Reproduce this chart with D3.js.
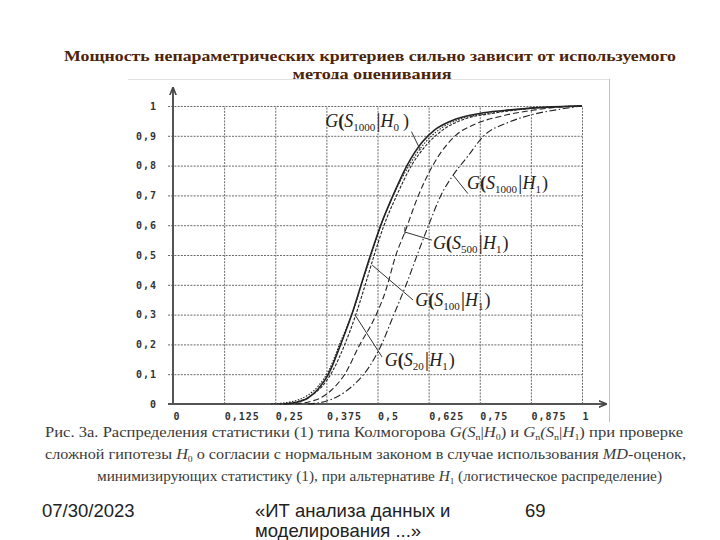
<!DOCTYPE html>
<html>
<head>
<meta charset="utf-8">
<script src="https://cdn.jsdelivr.net/npm/d3@7"></script>
<style>
  html, body { margin: 0; padding: 0; background: #fff; }
  svg { display: block; }
</style>
</head>
<body>
<svg id="canvas" width="720" height="540"></svg>
<script>
(() => {
    // Tick values and labels.
    const X_TICKS = [0, 0.125, 0.25, 0.375, 0.5, 0.625, 0.75, 0.875, 1];
    const X_TICK_LABELS = ["0", "0,125", "0,25", "0,375", "0,5", "0,625", "0,75", "0,875", "1"];
    const Y_TICKS = [0, 0.1, 0.2, 0.3, 0.4, 0.5, 0.6, 0.7, 0.8, 0.9, 1];
    const Y_TICK_LABELS = ["0", "0,1", "0,2", "0,3", "0,4", "0,5", "0,6", "0,7", "0,8", "0,9", "1"];

    // Curves: [statistic, G].
    const G_1000_H0 = [[0.27, 0], [0.30, 0.005], [0.33, 0.02], [0.355, 0.05], [0.38, 0.1], [0.41, 0.2],
        [0.437, 0.3], [0.46, 0.4], [0.483, 0.5], [0.508, 0.6], [0.538, 0.7], [0.572, 0.8], [0.61, 0.88],
        [0.64, 0.92], [0.68, 0.95], [0.75, 0.975], [0.81, 0.985], [0.875, 0.993], [0.95, 0.998], [1, 1]];
    const G_20_H1 = [[0.24, 0], [0.29, 0.008], [0.33, 0.03], [0.355, 0.06], [0.38, 0.11], [0.41, 0.21],
        [0.44, 0.31], [0.463, 0.41], [0.487, 0.51], [0.511, 0.61], [0.542, 0.71], [0.577, 0.8], [0.615, 0.875],
        [0.65, 0.92], [0.7, 0.955], [0.77, 0.975], [0.85, 0.99], [0.95, 0.998], [1, 1]];
    const G_100_H1 = [[0.26, 0], [0.31, 0.01], [0.34, 0.03], [0.365, 0.06], [0.39, 0.11], [0.42, 0.2],
        [0.447, 0.3], [0.47, 0.4], [0.492, 0.5], [0.516, 0.6], [0.547, 0.7], [0.583, 0.8], [0.62, 0.87],
        [0.66, 0.92], [0.71, 0.955], [0.78, 0.975], [0.86, 0.99], [0.95, 0.998], [1, 1]];
    const G_500_H1 = [[0.3, 0], [0.34, 0.01], [0.36, 0.02], [0.39, 0.05], [0.42, 0.1], [0.457, 0.2],
        [0.49, 0.28], [0.52, 0.38], [0.545, 0.5], [0.567, 0.577], [0.6, 0.7], [0.635, 0.8], [0.69, 0.9],
        [0.74, 0.94], [0.8, 0.965], [0.875, 0.985], [0.95, 0.997], [1, 1]];
    const G_1000_H1 = [[0.33, 0], [0.376, 0.01], [0.42, 0.04], [0.45, 0.075], [0.48, 0.125], [0.51, 0.2],
        [0.54, 0.3], [0.57, 0.4], [0.597, 0.5], [0.625, 0.6], [0.655, 0.7], [0.685, 0.768], [0.72, 0.83],
        [0.76, 0.9], [0.82, 0.945], [0.875, 0.97], [0.95, 0.99], [1, 1]];

    const SERIES = [
        { data: G_1000_H1, dash: "7,2.5,1.5,2.5", width: 1.1 },
        { data: G_500_H1, dash: "6,3", width: 1.1 },
        { data: G_100_H1, dash: "3,1.5", width: 1.1 },
        { data: G_20_H1, dash: "1.5,1.5", width: 1.1 },
        { data: G_1000_H0, dash: null, width: 1.6 }
    ];

    // Curve labels: subscript of S, subscript of H, text anchor, pointer (curve end, label end).
    const LABEL_S = ["1000", "1000", "500", "100", "20"];
    const LABEL_H = ["0", "1", "1", "1", "1"];
    const LABEL_AT = [[0.372, 0.93], [0.719, 0.72], [0.636, 0.52], [0.592, 0.329], [0.518, 0.128]];
    const POINTER_FROM = [[0.605, 0.852], [0.685, 0.768], [0.567, 0.577], [0.487, 0.466], [0.445, 0.299]];
    const POINTER_TO = [[0.583, 0.914], [0.721, 0.706], [0.633, 0.55], [0.587, 0.349], [0.511, 0.158]];

    let canvas = d3.select("#canvas");

    // Slide title.
    const TITLE_1 = "Мощность непараметрических критериев сильно зависит от используемого";
    const TITLE_2 = "метода оценивания";
    canvas.append("text")
        .attr("x", 370).attr("y", 61)
        .attr("text-anchor", "middle")
        .attr("font-family", "Liberation Serif, serif")
        .attr("font-weight", "bold")
        .attr("font-size", 15.5)
        .attr("fill", "#4e2408")
        .attr("textLength", 612)
        .attr("lengthAdjust", "spacingAndGlyphs")
        .text(TITLE_1);
    canvas.append("text")
        .attr("x", 372).attr("y", 79)
        .attr("text-anchor", "middle")
        .attr("font-family", "Liberation Serif, serif")
        .attr("font-weight", "bold")
        .attr("font-size", 15.5)
        .attr("fill", "#4e2408")
        .attr("textLength", 159)
        .attr("lengthAdjust", "spacingAndGlyphs")
        .text(TITLE_2);

    // Picture frame that hides the lower part of the second title line.
    canvas.append("rect")
        .attr("x", 128).attr("y", 79)
        .attr("width", 481).attr("height", 343)
        .attr("fill", "#fff");
    canvas.append("line")
        .attr("x1", 128).attr("x2", 609).attr("y1", 79.5).attr("y2", 79.5)
        .attr("stroke", "#e2e2e2");
    canvas.append("line")
        .attr("x1", 609.5).attr("x2", 609.5).attr("y1", 79).attr("y2", 422)
        .attr("stroke", "#c0c0c0");

    let x = d3.scaleLinear().domain([0, 1]).range([173, 582]);
    let y = d3.scaleLinear().domain([0, 1]).range([404, 106]);

    // Horizontal grid and y tick labels.
    let yAxis = canvas.append("g")
        .attr("transform", "translate(168,0)")
        .call(d3.axisLeft(y)
            .tickValues(Y_TICKS)
            .tickSize(-(x(1) - 168))
            .tickPadding(11)
            .tickFormat((d, i) => Y_TICK_LABELS[i]));
    yAxis.select(".domain").remove();

    // Vertical grid and x tick labels.
    let xAxis = canvas.append("g")
        .attr("transform", `translate(0,${y(0)})`)
        .call(d3.axisBottom(x)
            .tickValues(X_TICKS)
            .tickSize(-(y(0) - y(1)))
            .tickPadding(9)
            .tickFormat((d, i) => X_TICK_LABELS[i]));
    xAxis.select(".domain").remove();
    xAxis.selectAll(".tick line").filter(d => d === 0).remove();
    xAxis.selectAll(".tick text").attr("text-anchor", "start").attr("x", 0);

    canvas.selectAll(".tick line")
        .attr("stroke", "#6a6a6a")
        .attr("stroke-width", 1)
        .attr("stroke-dasharray", "2,1.2");
    canvas.selectAll(".tick text")
        .attr("font-family", "DejaVu Sans Mono, monospace")
        .attr("font-weight", "bold")
        .attr("font-size", 10)
        .attr("letter-spacing", 1)
        .attr("fill", "#333");

    // Axis lines with arrows.
    canvas.append("defs").append("marker")
        .attr("id", "arrow")
        .attr("viewBox", "0 0 10 10")
        .attr("refX", 9).attr("refY", 5)
        .attr("markerWidth", 4).attr("markerHeight", 4)
        .attr("orient", "auto")
        .append("path")
        .attr("d", "M0,1 L10,5 L0,9")
        .attr("fill", "none")
        .attr("stroke", "#444")
        .attr("stroke-width", 2);
    canvas.append("line")
        .attr("x1", x(0)).attr("x2", x(0))
        .attr("y1", y(0) + 1).attr("y2", 88)
        .attr("stroke", "#555").attr("stroke-width", 2)
        .attr("marker-end", "url(#arrow)");
    canvas.append("line")
        .attr("x1", 168).attr("x2", 606)
        .attr("y1", y(0)).attr("y2", y(0))
        .attr("stroke", "#555").attr("stroke-width", 2)
        .attr("marker-end", "url(#arrow)");

    // Distribution curves.
    let line = d3.line()
        .x(d => x(d[0]))
        .y(d => y(d[1]))
        .curve(d3.curveMonotoneX);

    canvas.append("g")
        .selectAll("path")
        .data(SERIES)
        .join("path")
        .attr("d", d => line(d.data))
        .attr("fill", "none")
        .attr("stroke", "#222")
        .attr("stroke-width", d => d.width)
        .attr("stroke-dasharray", d => d.dash);

    // Pointers from curves to labels.
    canvas.append("g")
        .selectAll("line")
        .data(POINTER_FROM)
        .join("line")
        .attr("x1", d => x(d[0])).attr("y1", d => y(d[1]))
        .attr("x2", (d, i) => x(POINTER_TO[i][0])).attr("y2", (d, i) => y(POINTER_TO[i][1]))
        .attr("stroke", "#333")
        .attr("stroke-width", 1);
    // Short tick at the S500 pointer.
    canvas.append("line")
        .attr("x1", x(POINTER_FROM[2][0])).attr("x2", x(POINTER_FROM[2][0]))
        .attr("y1", y(POINTER_FROM[2][1]) - 5).attr("y2", y(POINTER_FROM[2][1]) + 2)
        .attr("stroke", "#333");

    // Curve labels G(S_n | H_k).
    let labels = canvas.append("g")
        .selectAll("text")
        .data(LABEL_AT)
        .join("text")
        .attr("x", d => x(d[0]))
        .attr("y", d => y(d[1]))
        .attr("font-family", "Liberation Serif, serif")
        .attr("font-size", 18)
        .attr("fill", "#222");
    labels.each(function(d, i) {
        let t = d3.select(this);
        t.append("tspan").attr("font-style", "italic").text("G");
        t.append("tspan").attr("font-weight", "bold").text("(");
        t.append("tspan").attr("font-style", "italic").text("S");
        t.append("tspan").attr("font-size", 11).attr("baseline-shift", -4).text(LABEL_S[i]);
        t.append("tspan").attr("font-size", 22).attr("dx", 1).text("|");
        t.append("tspan").attr("font-style", "italic").text("H");
        t.append("tspan").attr("font-size", 11).attr("baseline-shift", -4).text(LABEL_H[i]);
        t.append("tspan").attr("dx", i === 0 ? 4 : 1).text(")");
    });

    // Figure caption.
    const CAPTION_TOP = 437;
    const CAPTION_STEP = 22;
    let caption = canvas.append("g")
        .attr("font-family", "Liberation Serif, serif")
        .attr("font-size", 15)
        .attr("fill", "#3a3a3a");

    function plain(t, s) {
        t.append("tspan").text(s);
    }
    function ital(t, s) {
        t.append("tspan").attr("font-style", "italic").text(s);
    }
    function sub(t, s) {
        t.append("tspan").attr("font-size", 9).attr("baseline-shift", -3).text(s);
    }

    let c1 = caption.append("text")
        .attr("x", 45).attr("y", CAPTION_TOP)
        .attr("textLength", 638).attr("lengthAdjust", "spacingAndGlyphs");
    plain(c1, "Рис. 3а. Распределения статистики (1) типа Колмогорова ");
    ital(c1, "G(S"); sub(c1, "n"); plain(c1, "|"); ital(c1, "H"); sub(c1, "0");
    plain(c1, ") и ");
    ital(c1, "G"); sub(c1, "n"); ital(c1, "(S"); sub(c1, "n"); plain(c1, "|"); ital(c1, "H"); sub(c1, "1");
    plain(c1, ") при проверке");

    let c2 = caption.append("text")
        .attr("x", 45).attr("y", CAPTION_TOP + CAPTION_STEP)
        .attr("textLength", 641).attr("lengthAdjust", "spacingAndGlyphs");
    plain(c2, "сложной гипотезы ");
    ital(c2, "H"); sub(c2, "0");
    plain(c2, " о согласии с нормальным законом в случае использования ");
    ital(c2, "MD");
    plain(c2, "-оценок,");

    let c3 = caption.append("text")
        .attr("x", 97).attr("y", CAPTION_TOP + 2 * CAPTION_STEP)
        .attr("textLength", 565).attr("lengthAdjust", "spacingAndGlyphs");
    plain(c3, "минимизирующих статистику (1), при альтернативе ");
    ital(c3, "H"); sub(c3, "1");
    plain(c3, " (логистическое распределение)");

    // Slide footer.
    let footer = canvas.append("g")
        .attr("font-family", "Liberation Sans, Arial, sans-serif")
        .attr("font-size", 18.5)
        .attr("fill", "#222");
    footer.append("text").attr("x", 42).attr("y", 517).text("07/30/2023");
    footer.append("text").attr("x", 255).attr("y", 517).text("«ИТ анализа данных и");
    footer.append("text").attr("x", 255).attr("y", 537).text("моделирования ...»");
    footer.append("text").attr("x", 525).attr("y", 517).text("69");
})();
</script>
</body>
</html>
